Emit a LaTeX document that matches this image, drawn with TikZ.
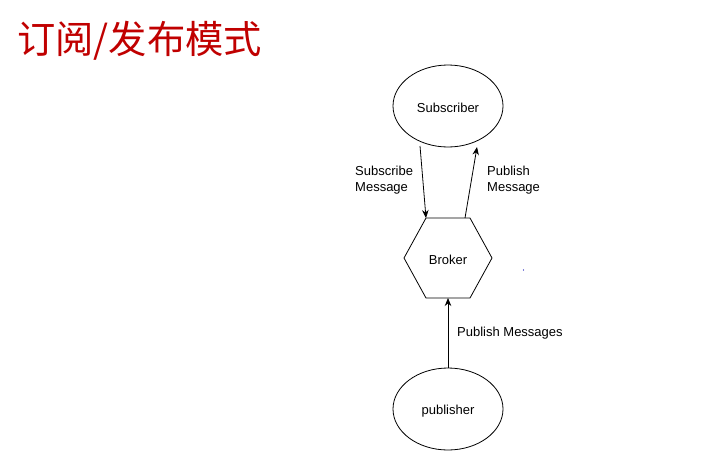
\documentclass[tikz,border=0pt]{standalone}
\usepackage{fontspec}
\setmainfont{Liberation Sans}
\newfontfamily\cjk{Noto Sans CJK SC}
\usetikzlibrary{shapes.geometric,arrows.meta}
\definecolor{titlered}{RGB}{192,0,0}
\tikzset{
  every node/.style={font=\fontsize{13}{16}\selectfont},
  ell/.style={ellipse, draw, line width=0.8pt, inner sep=0pt},
  conn/.style={draw, line width=0.8pt, -{Stealth[length=8pt,width=6.5pt]}},
  lbl/.style={align=left, anchor=west, inner sep=0pt},
}
\begin{document}
\begin{tikzpicture}[x=1pt,y=-1pt]
\useasboundingbox (0,0) rectangle (708,471);
\node[anchor=west, inner sep=0pt, text=titlered, font=\cjk\fontsize{38.3}{40}\selectfont] (title) at (17,41) {订阅/发布模式};
\node[ell, minimum width=110pt, minimum height=82pt] (sub) at (448,106) {};
\node (subt) at (448,108) {Subscriber};
\node[ell, minimum width=110pt, minimum height=82pt] (pub) at (448,409) {};
\node (pubt) at (448,411) {publisher};
\draw[line width=0.8pt] (426,218) -- (470,218) -- (492,258) -- (470,298) -- (426,298) -- (404,258) -- cycle;
\node (broker) at (448,260) {Broker};
\coordinate (htl) at (426,218);
\coordinate (htr) at (465,218);
\coordinate (hb) at (448,298);
\coordinate (s1) at (420,146);
\coordinate (s2) at (477,147);
\path[conn] (s1) -- (htl);
\path[conn] (htr) -- (s2);
\path[conn] (pub.north) -- (hb);
\node[lbl] (l1) at (355,180) {Subscribe\\Message};
\node[lbl] (l2) at (487,180) {Publish\\Message};
\node[lbl] (l3) at (457,333) {Publish Messages};
\fill[blue!70!black] (523.5,270) circle (0.6pt);
\end{tikzpicture}
\end{document}
